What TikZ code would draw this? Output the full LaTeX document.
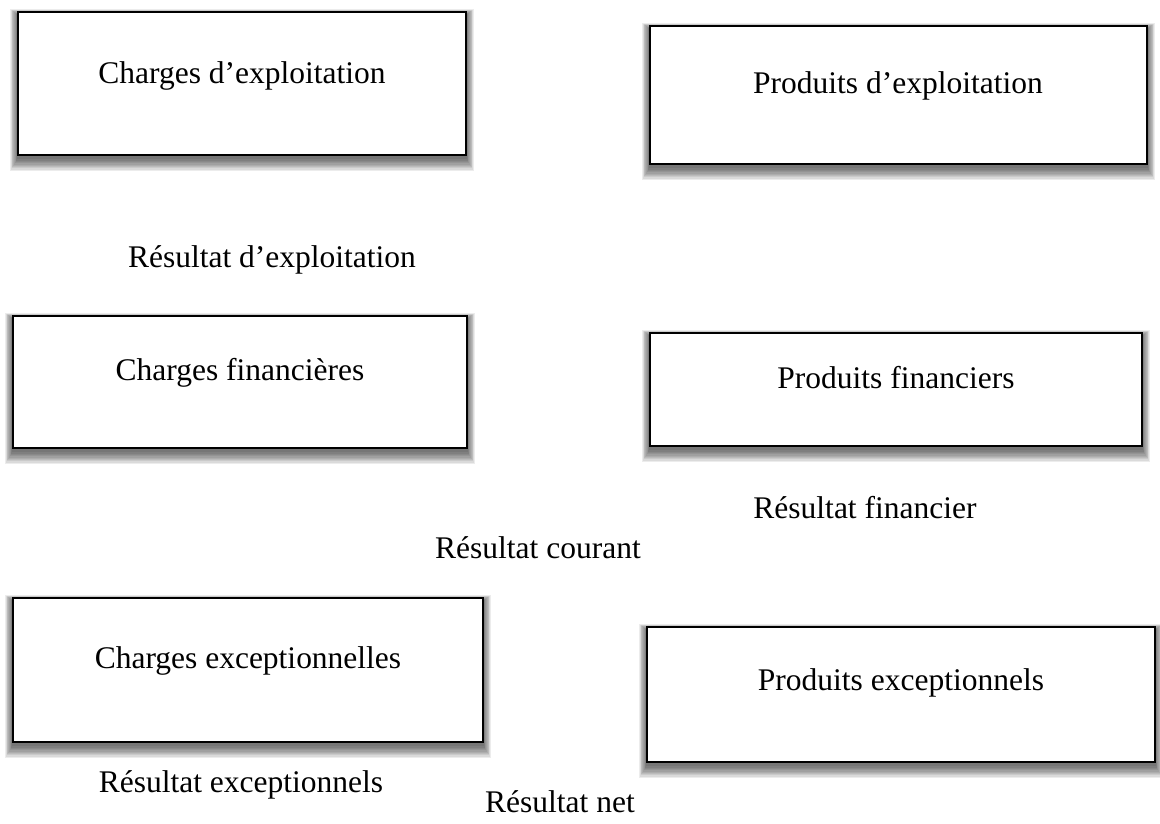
\documentclass[tikz,border=0pt]{standalone}
\usepackage{fontspec}
\setmainfont{Liberation Serif}
\usetikzlibrary{fit}
\tikzset{
  boxframe/.style={draw=black, line width=2.8pt, fill=white},
  shadelayer/.style={fill=black, fill opacity=0.075, draw=none},
  lbl/.style={anchor=base, inner sep=0pt, font=\fontsize{31.5}{36}\selectfont},
}
\newcommand\shadowedbox[5]{%
  \foreach \k in {1,...,10}{%
    \path[shadelayer] (#2-\k*0.8, #3-\k*0.6+3) rectangle (#4+\k*0.8, #5+\k*1.3+3);
  }%
  \node[boxframe, inner sep=0pt, fit={(#2,#3) (#4,#5)}] (#1) {};
}
\begin{document}
\begin{tikzpicture}[x=1pt, y=-1pt]
\useasboundingbox (0,0) rectangle (1160,823);
% boxes
\shadowedbox{b1}{18}{12}{466}{155}
\shadowedbox{b2}{650}{26}{1147}{164}
\shadowedbox{b3}{13}{316}{467}{448}
\shadowedbox{b4}{650}{333}{1142}{446}
\shadowedbox{b5}{13}{598}{483}{742}
\shadowedbox{b6}{647}{627}{1155}{762}
% box texts
\node[lbl] (ce) at (242,83) {Charges d’exploitation};
\node[lbl] (pe) at (898,93) {Produits d’exploitation};
\node[lbl] (cf) at (240,380) {Charges financières};
\node[lbl] (pf) at (896,388) {Produits financiers};
\node[lbl] (cx) at (248,668) {Charges exceptionnelles};
\node[lbl] (px) at (901,690) {Produits exceptionnels};
% result labels
\node[lbl] (re) at (272,267) {Résultat d’exploitation};
\node[lbl] (rf) at (865,518) {Résultat financier};
\node[lbl] (rc) at (538,558) {Résultat courant};
\node[lbl] (rx) at (241,792) {Résultat exceptionnels};
\node[lbl] (rn) at (560,812) {Résultat net};
\end{tikzpicture}
\end{document}
